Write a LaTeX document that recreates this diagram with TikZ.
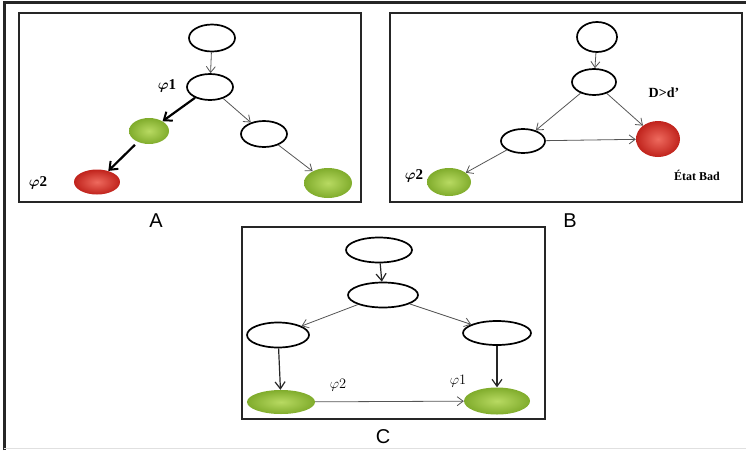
\documentclass[tikz,border=0pt]{standalone}
\usepackage{fontspec}
\usepackage{amsmath,amssymb,bm}
\setmainfont{Liberation Serif}
\newfontfamily\arialf{Liberation Sans}
\usetikzlibrary{shapes.geometric,arrows.meta}
\definecolor{gin}{HTML}{B8DA62}
\definecolor{gout}{HTML}{80AC2C}
\definecolor{rin}{HTML}{EE6A5E}
\definecolor{rout}{HTML}{C0231C}
\definecolor{edgegray}{HTML}{555555}
\tikzset{
  wnode/.style={ellipse,draw=black,line width=1.7pt,fill=white,inner sep=0pt},
  gnode/.style={ellipse,inner sep=0pt,inner color=gin,outer color=gout},
  rnode/.style={ellipse,inner sep=0pt,inner color=rin,outer color=rout},
  thin edge/.style={draw=edgegray,line width=0.8pt,-{Straight Barb[length=6pt,width=9pt]}},
  bold edge/.style={draw=black,line width=2.2pt,-{Straight Barb[length=7pt,width=11pt,line width=2pt]}},
  dark edge/.style={draw=black!85,line width=1.2pt,-{Straight Barb[length=7pt,width=10pt]}},
  panel/.style={draw=black!85,line width=2pt},
  lbl/.style={inner sep=0pt,font=\fontsize{15}{17}\selectfont},
  plbl/.style={inner sep=0pt,font=\arialf\fontsize{20}{24}\selectfont},
}
\begin{document}
\begin{tikzpicture}[x=1pt,y=-1pt]
\useasboundingbox (0,0) rectangle (746,450);
% outer frame
\draw[line width=3pt,black!85] (4,450) -- (4,2.5) -- (746,2.5);
\draw[line width=1pt,black!12] (4,448.5) -- (746,448.5);

% ---------- Panel A ----------
\draw[panel] (19,13) rectangle (361,202);
\node[wnode,minimum width=46pt,minimum height=27pt] (a1) at (212,38) {};
\node[wnode,minimum width=46pt,minimum height=26pt] (a2) at (210,87) {};
\node[gnode,minimum width=40pt,minimum height=26pt] (a3) at (149,131) {};
\node[wnode,minimum width=46pt,minimum height=26pt] (a4) at (264,134) {};
\node[rnode,minimum width=46pt,minimum height=25pt] (a5) at (97,182) {};
\node[gnode,minimum width=48pt,minimum height=30pt] (a6) at (328,183) {};
\draw[thin edge] (a1) -- (a2);
\draw[bold edge] (a2) -- (a3);
\draw[thin edge] (a2) -- (a4);
\draw[bold edge,shorten <=4pt] (a3) -- (a5);
\draw[thin edge] (a4) -- (a6);
\node[lbl] (phiA1) at (167,86) {$\bm{\varphi}\mathbf{1}$};
\node[lbl] (phiA2) at (38,183) {$\bm{\varphi}\mathbf{2}$};
\node[plbl] (labA) at (156,221) {A};

% ---------- Panel B ----------
\draw[panel] (390,13) rectangle (742,202);
\node[wnode,minimum width=40pt,minimum height=30pt] (b1) at (597,37) {};
\node[wnode,minimum width=44pt,minimum height=26pt] (b2) at (594,82) {};
\node[wnode,minimum width=44pt,minimum height=24pt] (b3) at (523,141) {};
\node[rnode,minimum width=44pt,minimum height=36pt] (b4) at (658,139) {};
\node[gnode,minimum width=44pt,minimum height=28pt] (b5) at (449,182) {};
\draw[thin edge] (b1) -- (b2);
\draw[thin edge] (b2) -- (b3);
\draw[thin edge] (b2) -- (b4);
\draw[thin edge] (b3) -- (b4);
\draw[thin edge] (b3) -- (b5);
\node[lbl,font=\bfseries\fontsize{14}{16}\selectfont] (dd) at (664,93) {D>d’};
\node[lbl] (phiB2) at (414,176) {$\bm{\varphi}\mathbf{2}$};
\node[lbl,font=\bfseries\fontsize{12}{14}\selectfont] (bad) at (697,175) {État Bad};
\node[plbl] (labB) at (570,221) {B};

% ---------- Panel C ----------
\draw[panel] (242,227) rectangle (545,419);
\node[wnode,minimum width=66pt,minimum height=25pt] (c1) at (379,250) {};
\node[wnode,minimum width=70pt,minimum height=25pt] (c2) at (383,295) {};
\node[wnode,minimum width=62pt,minimum height=25pt] (c3) at (278,335) {};
\node[wnode,minimum width=68pt,minimum height=24pt] (c4) at (497,333) {};
\node[gnode,minimum width=68pt,minimum height=24pt] (c5) at (281,402) {};
\node[gnode,minimum width=66pt,minimum height=27pt] (c6) at (497,401) {};
\draw[dark edge] (c1) -- (c2);
\draw[thin edge] (c2) -- (c3);
\draw[thin edge] (c2) -- (c4);
\draw[dark edge] (c3) -- (c5);
\draw[dark edge] (c4) -- (c6);
\draw[thin edge] (c5) -- (c6);
\node[lbl,font=\fontsize{15}{17}\selectfont] (phiC2) at (338,385) {$\varphi2$};
\node[lbl,font=\fontsize{15}{17}\selectfont] (phiC1) at (458,381) {$\varphi1$};
\node[plbl] (labC) at (383,437) {C};
\end{tikzpicture}
\end{document}
